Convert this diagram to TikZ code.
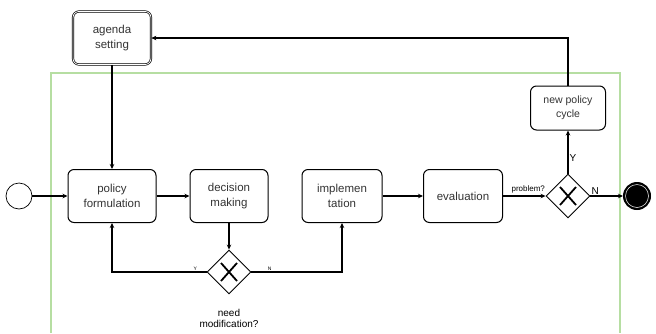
\documentclass[tikz,border=0pt]{standalone}
\usepackage{fontspec}
\setmainfont{Liberation Sans}
\usetikzlibrary{arrows.meta,shapes.geometric}
\definecolor{lanegreen}{RGB}{182,222,162}

\begin{document}
\begin{tikzpicture}[x=1pt,y=-1pt,
  task/.style={draw,rounded corners=6pt,minimum width=78pt,minimum height=53pt,
    align=center,line width=1pt,text=black!80,font=\fontsize{11.5}{15}\selectfont},
  gate/.style={draw,diamond,minimum size=44pt,inner sep=0pt,line width=0.9pt},
  flow/.style={-{Stealth[length=5pt,width=4.5pt]},line width=1.4pt},
  lbl/.style={inner sep=1pt,font=\fontsize{8}{9}\selectfont}]
\useasboundingbox (0,0) rectangle (656,333);
% pool
\draw[lanegreen,line width=1.3pt] (51,333) |- (620,73) -- (620,333);
% events
\node[draw,circle,minimum size=26pt,inner sep=0pt,line width=0.7pt] (start) at (19,196) {};
\node[draw,circle,fill=black,minimum size=27pt,inner sep=0pt,line width=1pt] (stop) at (637,196) {};
\draw[white,line width=0.5pt] (stop.center) circle (11.5);
% tasks
\node[task,double,double distance=0.8pt,line width=0.7pt] (agenda) at (112,38) {agenda\\setting};
\node[task,minimum width=88pt] (policy) at (112,196) {policy\\formulation};
\node[task] (decision) at (229,196) {decision\\making};
\node[task,minimum width=80pt] (impl) at (342,196) {implemen\\tation};
\node[task,minimum width=79pt] (eval) at (463,196) {evaluation};
\node[task,minimum width=75pt,minimum height=44pt,font=\fontsize{10.5}{14}\selectfont] (cycle) at (568,108) {new policy\\cycle};
% gateways
\node[gate] (need) at (229,272) {};
\node[gate] (problem) at (568,196) {};
\foreach \g in {need,problem}{
  \draw[line width=1.8pt] ([shift={(-8,-9)}]\g.center) -- ([shift={(8,9)}]\g.center);
  \draw[line width=1.8pt] ([shift={(-8,9)}]\g.center) -- ([shift={(8,-9)}]\g.center);
}
\node[align=center,font=\fontsize{10}{11}\selectfont] (needtxt) at (229,318) {need\\modification?};
% flows
\draw[flow] (start) -- (policy);
\draw[flow] (agenda) -- (policy);
\draw[flow] (policy) -- (decision);
\draw[flow] (decision) -- (need);
\draw[flow] (need.west) -| (policy.south) node[pos=0.06,above,lbl,font=\fontsize{5}{6}\selectfont]{Y};
\draw[flow] (need.east) -| (impl.south) node[pos=0.1,above,lbl,font=\fontsize{5}{6}\selectfont]{N};
\draw[flow] (impl) -- (eval);
\draw[flow] (eval) -- (problem) node[midway,above=1pt,lbl,xshift=4pt]{problem?};
\draw[flow] (problem) -- (cycle) node[pos=0.35,right,inner sep=1pt,font=\fontsize{10}{11}\selectfont]{Y};
\draw[flow] (problem) -- (stop) node[pos=0.15,above,inner sep=1pt,font=\fontsize{10}{11}\selectfont]{N};
\draw[flow] (cycle.north) |- (agenda.east);
\end{tikzpicture}
\end{document}
